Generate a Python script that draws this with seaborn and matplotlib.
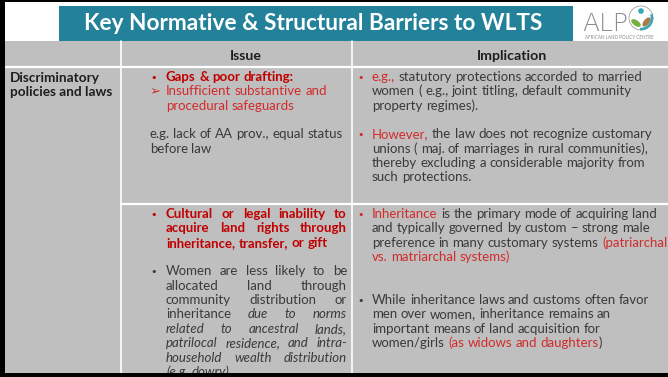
import re
import matplotlib
matplotlib.use("Agg")
import matplotlib.pyplot as plt
import seaborn as sns
from matplotlib.patches import Rectangle, Wedge, Circle, Ellipse

sns.set_theme(style="white")
plt.rcParams['font.family'] = ['Lato', 'DejaVu Sans']

# slide text
title = "Key Normative & Structural Barriers to WLTS"
headers = ["Issue", "Implication"]
row_label = ["Discriminatory", "policies and laws"]
logo_letters = "ALP"
logo_caption = "AFRICAN LAND POLICY CENTRE"

# one entry per text line: (marker, runs, justify); None = empty line
# marker "" = hanging continuation, None = text starts at the bullet column
issue_row1 = [
    ("•", [("Gaps & poor drafting:", "rb")], False),
    ("➢", [("Insufficient substantive and", "r")], False),
    ("", [("procedural safeguards", "r")], False),
    None,
    (None, [("e.g. lack of AA prov., equal status", "n")], False),
    (None, [("before law", "n")], False),
]
implication_row1 = [
    ("•", [("e.g.,", "r"), (" statutory protections accorded to married", "n")], False),
    ("", [("women ( e.g., joint titling, default community", "n")], False),
    ("", [("property regimes).", "n")], False),
    None,
    ("•", [("However,", "r"), (" the law does not  recognize customary", "n")], False),
    ("", [("unions ( maj. of marriages in rural communities),", "n")], False),
    ("", [("thereby excluding a considerable majority from", "n")], False),
    ("", [("such protections.", "n")], False),
]
issue_row2 = [
    ("•", [("Cultural or legal inability to", "rb")], True),
    ("", [("acquire land rights through", "rb")], True),
    ("", [("inheritance, transfer, or gift", "rb")], False),
    None,
    ("•", [("Women are less likely to be", "n")], True),
    ("", [("allocated land through", "n")], True),
    ("", [("community distribution or", "n")], True),
    ("", [("inheritance", "n"), (" due to norms", "i")], True),
    ("", [("related to ancestral lands,", "i")], True),
    ("", [("patrilocal residence, and intra-", "i")], True),
    ("", [("household wealth distribution", "i")], True),
    ("", [("(e.g. dowry)", "i")], False),
]
implication_row2 = [
    ("•", [("Inheritance", "r"), (" is the primary mode of acquiring land", "n")], False),
    ("", [("and typically governed by custom – strong male", "n")], False),
    ("", [("preference in many customary systems ", "n"), ("(patriarchal", "r")], False),
    ("", [("vs. matriarchal systems)", "r")], False),
    None,
    None,
    ("•", [("While inheritance laws and customs often favor", "n")], False),
    ("", [("men over women, inheritance remains an", "n")], False),
    ("", [("important means of land acquisition for", "n")], False),
    ("", [("women/girls ", "n"), ("(as widows and daughters", "r"), (")", "n")], False),
]

DARK = "#3a3a3a"
styles = {
    "n": dict(color=DARK),
    "r": dict(color="#d22b2b"),
    "rb": dict(color="#c00000", weight="bold"),
    "i": dict(color=DARK, style="italic"),
}
BODY = 9.5
LEAD = 14.35

fig = plt.figure(figsize=(6.68, 3.77), dpi=100)
ax = fig.add_axes([0, 0, 1, 1])
ax.set_xlim(0, 668)
ax.set_ylim(377, 0)
ax.axis("off")
renderer = fig.canvas.get_renderer()

# background blocks
ax.add_patch(Rectangle((59, 6), 514, 35, color="#23819a", lw=0))
ax.add_patch(Rectangle((5, 41), 663, 332, color="#bfbfbf", lw=0))
ax.plot([5, 668], [67, 67], color="white", lw=1.6)
ax.plot([120.5, 120.5], [41, 373], color="white", lw=1.2)
ax.plot([352, 352], [41, 373], color="white", lw=1.2)
ax.plot([120.5, 668], [203.5, 203.5], color="white", lw=1.6)

ax.text(313.5, 30, title, fontsize=16.3, weight="bold", color="white", ha="center", va="baseline")
ax.text(246, 60, headers[0], fontsize=10.2, weight="bold", color="#1e1e1e", ha="center", va="baseline")
ax.text(512, 60, headers[1], fontsize=10.2, weight="bold", color="#1e1e1e", ha="center", va="baseline")
for i, s in enumerate(row_label):
    ax.text(10, 82 + i * 14, s, fontsize=9.8, weight="bold", color="#1e1e1e", va="baseline")


def width_of(s, **kw):
    t = ax.text(0, 0, s, fontsize=BODY, **kw)
    w = t.get_window_extent(renderer).width
    t.remove()
    return w


space_w = width_of("a a") - width_of("aa")


def draw_line(x0, x1, y, runs, justify):
    tokens = []
    prev_space = False
    for text, key in runs:
        for j, m in enumerate(re.finditer(r"(\s*)(\S+)", text)):
            sp = bool(m.group(1)) or (j == 0 and prev_space)
            tokens.append((m.group(2), key, sp and len(tokens) > 0))
        prev_space = text.endswith(" ")
    texts = [ax.text(0, y, w, fontsize=BODY, va="baseline", ha="left", **styles[k])
             for w, k, _ in tokens]
    widths = [t.get_window_extent(renderer).width for t in texts]
    gap = space_w
    n = sum(1 for tk in tokens if tk[2])
    if justify and n:
        gap = (x1 - x0 - sum(widths)) / n
    x = x0
    for t, w, tk in zip(texts, widths, tokens):
        if tk[2]:
            x += gap
        t.set_x(x)
        x += w


def draw_cell(lines, mx, tx, right, y0):
    for i, line in enumerate(lines):
        if line is None:
            continue
        marker, runs, justify = line
        y = y0 + i * LEAD
        first = styles[runs[0][1]]["color"]
        if marker:
            ax.text(mx, y, marker, fontsize=BODY - 1.5 if marker == "•" else BODY,
                    color=first, va="baseline", ha="left",
                    family=["DejaVu Sans"])
        start = mx if marker is None else tx
        draw_line(start, right, y, runs, justify)


draw_cell(issue_row1, 150, 166, 347, 81)
draw_cell(implication_row1, 357, 372, 662, 81)
draw_cell(issue_row2, 150, 166, 347, 218)
draw_cell(implication_row2, 357, 372, 662, 218)

# logo
ax.text(582, 31, logo_letters, fontsize=18, weight=200, color="#8c8c8c",
        va="baseline", family=["DejaVu Sans"])
ax.add_patch(Circle((641, 18), 12, fill=False, ec="#a0a0a0", lw=0.6))
ax.add_patch(Wedge((641, 18), 12.3, -20, 95, width=2.6, color="#3aa6b9", lw=0))
ax.add_patch(Circle((641, 11), 2.8, color="#3aa6b9", lw=0))
ax.add_patch(Ellipse((636, 23), 11, 5.5, angle=35, color="#76b043", lw=0))
ax.add_patch(Ellipse((646.5, 22), 11, 5.5, angle=-50, color="#a57c4c", lw=0))
ax.text(619, 39, logo_caption, fontsize=3.3, color="#8c8c8c", ha="center", va="baseline")

# slide frame
ax.add_patch(Rectangle((0, 0), 5, 377, color="black", lw=0, zorder=5))
ax.add_patch(Rectangle((0, 0), 668, 2, color="black", lw=0, zorder=5))
ax.add_patch(Rectangle((0, 373), 668, 4, color="black", lw=0, zorder=5))

fig.savefig("out.png", dpi=100)
